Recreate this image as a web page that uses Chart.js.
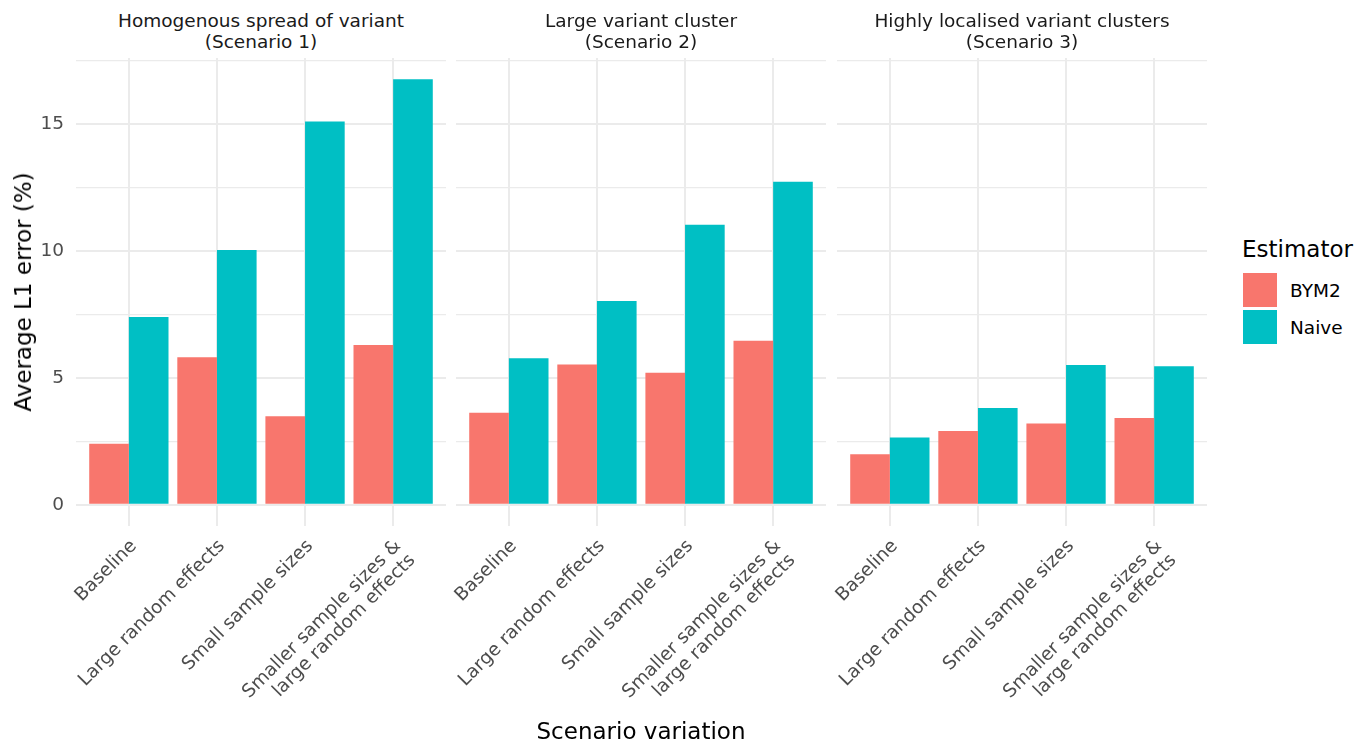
<!DOCTYPE html>
<html lang="en">
<head>
  <meta charset="UTF-8">
  <title>Average L1 error by scenario variation</title>
  <script src="https://cdn.jsdelivr.net/npm/chart.js@4.4.1/dist/chart.umd.min.js"></script>
  <style>
    body { margin: 0; background: #fff; font-family: 'DejaVu Sans', sans-serif; }
    #wrap { position: relative; width: 1370px; height: 742px; overflow: hidden; }
    canvas { position: absolute; }
    .strip { position: absolute; top: 10px; width: 370px; text-align: center; font-size: 18.5px; line-height: 21px; color: #1A1A1A; white-space: nowrap; }
    .ytitle { position: absolute; left: 23px; top: 292px; font-size: 23px; color: #000; white-space: nowrap; transform: translate(-50%, -50%) rotate(-90deg); }
    .xtitle { position: absolute; left: 641px; top: 731px; font-size: 23px; color: #000; white-space: nowrap; transform: translate(-50%, -50%); }
    .legend-title { position: absolute; left: 1242px; top: 236px; font-size: 23px; color: #000; }
    .key { position: absolute; left: 1243px; width: 34px; height: 34px; }
    .key-label { position: absolute; left: 1290px; font-size: 18.5px; color: #000; line-height: 20px; }
  </style>
</head>
<body>
  <div id="wrap"></div>

  <script>
    // facet titles and x categories
    const scenarioTitles = [
      ['Homogenous spread of variant', '(Scenario 1)'],
      ['Large variant cluster', '(Scenario 2)'],
      ['Highly localised variant clusters', '(Scenario 3)']
    ];
    const categories = [
      'Baseline',
      'Large random effects',
      'Small sample sizes',
      ['Smaller sample sizes &', 'large random effects']
    ];

    // average L1 error (%)
    const bym2S1 = [2.40, 5.81, 3.48, 6.29];
    const naiveS1 = [7.39, 10.03, 15.09, 16.75];
    const bym2S2 = [3.62, 5.52, 5.20, 6.46];
    const naiveS2 = [5.77, 8.02, 11.02, 12.72];
    const bym2S3 = [1.99, 2.90, 3.20, 3.41];
    const naiveS3 = [2.65, 3.81, 5.50, 5.45];

    const seriesNames = ['BYM2', 'Naive'];
    const seriesColors = ['#F8766D', '#00BFC4'];
    const yTickValues = [0, 2.5, 5, 7.5, 10, 12.5, 15, 17.5];

    const bym2 = [bym2S1, bym2S2, bym2S3];
    const naive = [naiveS1, naiveS2, naiveS3];

    // shared y range, ggplot style 5% expansion
    const dataMax = Math.max(...naive.flat(), ...bym2.flat());
    const yMin = -dataMax * 0.05;
    const yMax = dataMax * 1.05;

    const panelLefts = [76, 456, 837];
    const panelWidth = 370;
    const panelTop = 58;
    const panelHeight = 468;
    const xAxisHeight = 190;
    const fontFamily = "'DejaVu Sans', sans-serif";
    const wrap = document.getElementById('wrap');

    panelLefts.forEach((left, i) => {
      const yAxisWidth = i === 0 ? 76 : 24;
      const canvas = document.createElement('canvas');
      canvas.width = panelWidth + yAxisWidth;
      canvas.height = panelHeight + xAxisHeight;
      canvas.style.left = (left - yAxisWidth) + 'px';
      canvas.style.top = panelTop + 'px';
      wrap.appendChild(canvas);

      const values = [bym2[i], naive[i]];
      new Chart(canvas, {
        type: 'bar',
        data: {
          datasets: seriesNames.map((name, s) => ({
            label: name,
            data: values[s].map((v, k) => ({ x: k, y: v })),
            backgroundColor: seriesColors[s],
            borderWidth: 0
          }))
        },
        options: {
          responsive: false,
          animation: false,
          layout: { padding: 0 },
          plugins: { legend: { display: false }, tooltip: { enabled: false } },
          datasets: { bar: { barPercentage: 1, categoryPercentage: 0.9 } },
          scales: {
            x: {
              type: 'linear',
              min: -0.6,
              max: 3.6,
              offset: false,
              afterBuildTicks: scale => { scale.ticks = categories.map((c, k) => ({ value: k })); },
              afterFit: scale => { scale.height = xAxisHeight; scale.paddingLeft = 0; scale.paddingRight = 0; },
              ticks: {
                autoSkip: false,
                minRotation: 45,
                maxRotation: 45,
                padding: 10,
                labelOffset: 5,
                color: '#4D4D4D',
                font: { family: fontFamily, size: 18.5, lineHeight: 1.1 },
                callback: v => categories[v]
              },
              grid: { offset: false, color: '#EBEBEB', lineWidth: 2, drawTicks: false },
              border: { display: false }
            },
            y: {
              min: yMin,
              max: yMax,
              afterBuildTicks: scale => { scale.ticks = yTickValues.map(v => ({ value: v })); },
              afterFit: scale => { scale.width = yAxisWidth; scale.paddingTop = 0; scale.paddingBottom = 0; },
              ticks: {
                display: i === 0,
                padding: 12,
                color: '#4D4D4D',
                font: { family: fontFamily, size: 18.5 },
                callback: v => (v % 5 === 0 ? String(v) : '')
              },
              grid: {
                color: '#EBEBEB',
                lineWidth: c => (c.tick && c.tick.value % 5 === 0 ? 2 : 1.3),
                drawTicks: false
              },
              border: { display: false }
            }
          }
        }
      });

      const strip = document.createElement('div');
      strip.className = 'strip';
      strip.style.left = left + 'px';
      strip.innerHTML = scenarioTitles[i].join('<br>');
      wrap.appendChild(strip);
    });

    // axis titles
    const yTitle = document.createElement('div');
    yTitle.className = 'ytitle';
    yTitle.textContent = 'Average L1 error (%)';
    wrap.appendChild(yTitle);

    const xTitle = document.createElement('div');
    xTitle.className = 'xtitle';
    xTitle.textContent = 'Scenario variation';
    wrap.appendChild(xTitle);

    // legend
    const legendTitle = document.createElement('div');
    legendTitle.className = 'legend-title';
    legendTitle.textContent = 'Estimator';
    wrap.appendChild(legendTitle);

    seriesNames.forEach((name, s) => {
      const key = document.createElement('div');
      key.className = 'key';
      key.style.top = (273 + s * 37) + 'px';
      key.style.background = seriesColors[s];
      wrap.appendChild(key);

      const label = document.createElement('div');
      label.className = 'key-label';
      label.style.top = (281 + s * 37) + 'px';
      label.textContent = name;
      wrap.appendChild(label);
    });
  </script>
</body>
</html>
